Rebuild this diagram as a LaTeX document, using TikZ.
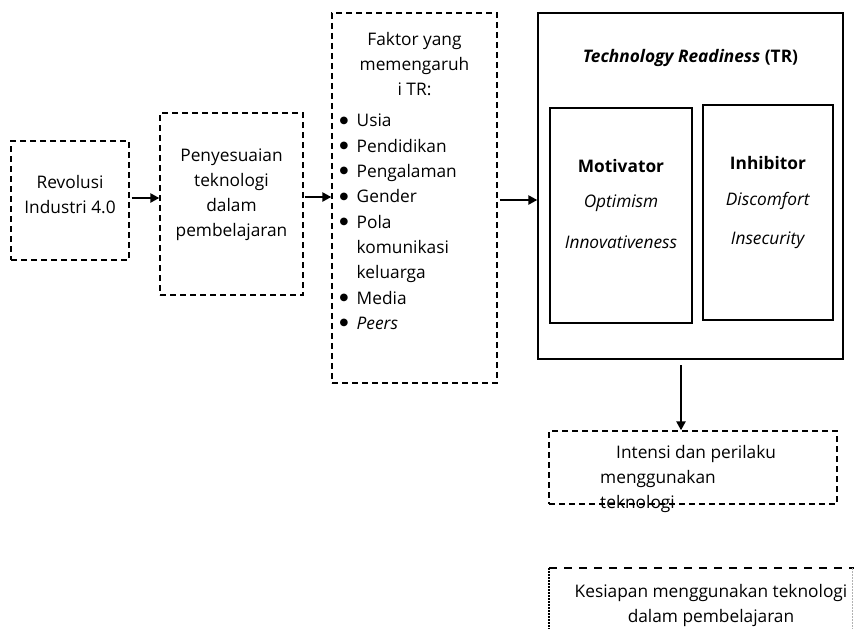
\documentclass[tikz,border=0pt]{standalone}
\usepackage{fontspec}
\setmainfont{Open Sans}
\newfontfamily\dvfont{DejaVu Sans}
\usetikzlibrary{arrows.meta}
\begin{document}
\begin{tikzpicture}[x=1pt,y=-1pt,
  box/.style={draw, line width=1.3pt, dash pattern=on 6pt off 4pt, inner sep=0pt},
  solidbox/.style={draw, line width=1.3pt, inner sep=0pt},
  txt/.style={font=\fontsize{17.3}{25}\selectfont, align=center, inner sep=0pt},
  arr/.style={line width=2.4pt, -{Triangle[length=9pt,width=9pt]}}]
\useasboundingbox (0,0) rectangle (854,629);
\newcommand{\blt}{\makebox[17pt][l]{\raisebox{3.6pt}{\dvfont\fontsize{10}{10}\selectfont ●}}}
% boxes
\node[box, minimum width=118pt, minimum height=119pt] (b1) at (70,200.5) {};
\node[box, minimum width=143pt, minimum height=182pt] (b2) at (231.5,204) {};
\node[box, minimum width=165pt, minimum height=370pt] (b3) at (414.5,198) {};
\node[solidbox, minimum width=305pt, minimum height=346pt] (tr) at (690.5,186) {};
\node[solidbox, minimum width=142pt, minimum height=215pt] (mot) at (621,215.5) {};
\node[solidbox, minimum width=130pt, minimum height=215pt] (inh) at (768,212.5) {};
\node[box, minimum width=288pt, minimum height=73pt] (intensi) at (693,467.5) {};
% texts
\node[txt] (t1) at (70,195) {Revolusi\\Industri 4.0};
\node[txt] (t2) at (231.5,195) {Penyesuaian\\teknologi\\dalam\\pembelajaran};
\node[txt] (t3) at (414.5,64) {Faktor yang\\memengaruh\\i TR:};
\node[txt, align=left, anchor=north west, font=\fontsize{17.3}{25.3}\selectfont] (t4) at (339.5,114) {%
\blt Usia\\
\blt Pendidikan\\
\blt Pengalaman\\
\blt Gender\\
\blt Pola\\
\hspace{17pt}komunikasi\\
\hspace{17pt}keluarga\\
\blt Media\\
\blt\textit{Peers}};
\node[txt] (t5) at (690.5,58) {\textbf{\textit{Technology Readiness}} \textbf{(TR)}};
\node[txt] (t6) at (621,166) {\textbf{Motivator}};
\node[txt] (t7) at (621,203) {\textit{Optimism}};
\node[txt] (t8) at (621,242) {\textit{Innovativeness}};
\node[txt] (t9) at (768,163) {\textbf{Inhibitor}};
\node[txt] (t10) at (768,201) {\textit{Discomfort}};
\node[txt] (t11) at (768,240) {\textit{Insecurity}};
\node[txt, anchor=base west] (t12) at (616,458) {Intensi dan perilaku};
\node[txt, anchor=base west] (t13) at (600,483) {menggunakan};
\node[txt, anchor=base west] (t14) at (600,508) {teknologi};
\node[txt] (t15) at (711,605) {Kesiapan menggunakan teknologi\\dalam pembelajaran};
% legend box edges
\coordinate (k1) at (549,568);
\coordinate (k2) at (854,568);
\coordinate (k3) at (549,629);
\coordinate (k4) at (852,568);
\coordinate (k5) at (852,629);
\draw[line width=1.2pt, dash pattern=on 8pt off 7pt] (k1) -- (k2);
\draw[line width=1.5pt, dash pattern=on 1.5pt off 1.5pt] (k1) -- (k3);
\draw[line width=1pt, gray!60, dash pattern=on 1.5pt off 1.5pt] (k4) -- (k5);
% arrows
\draw[arr] (b1.east |- 0,198) ++(2,0) -- (b2.west |- 0,198);
\draw[arr] (b2.east |- 0,197) ++(1,0) -- (b3.west |- 0,197);
\draw[arr] (b3.east |- 0,200) ++(2,0) -- (tr.west |- 0,200);
\draw[arr] (681,365) -- (intensi.north -| 681,0);
\end{tikzpicture}
\end{document}
